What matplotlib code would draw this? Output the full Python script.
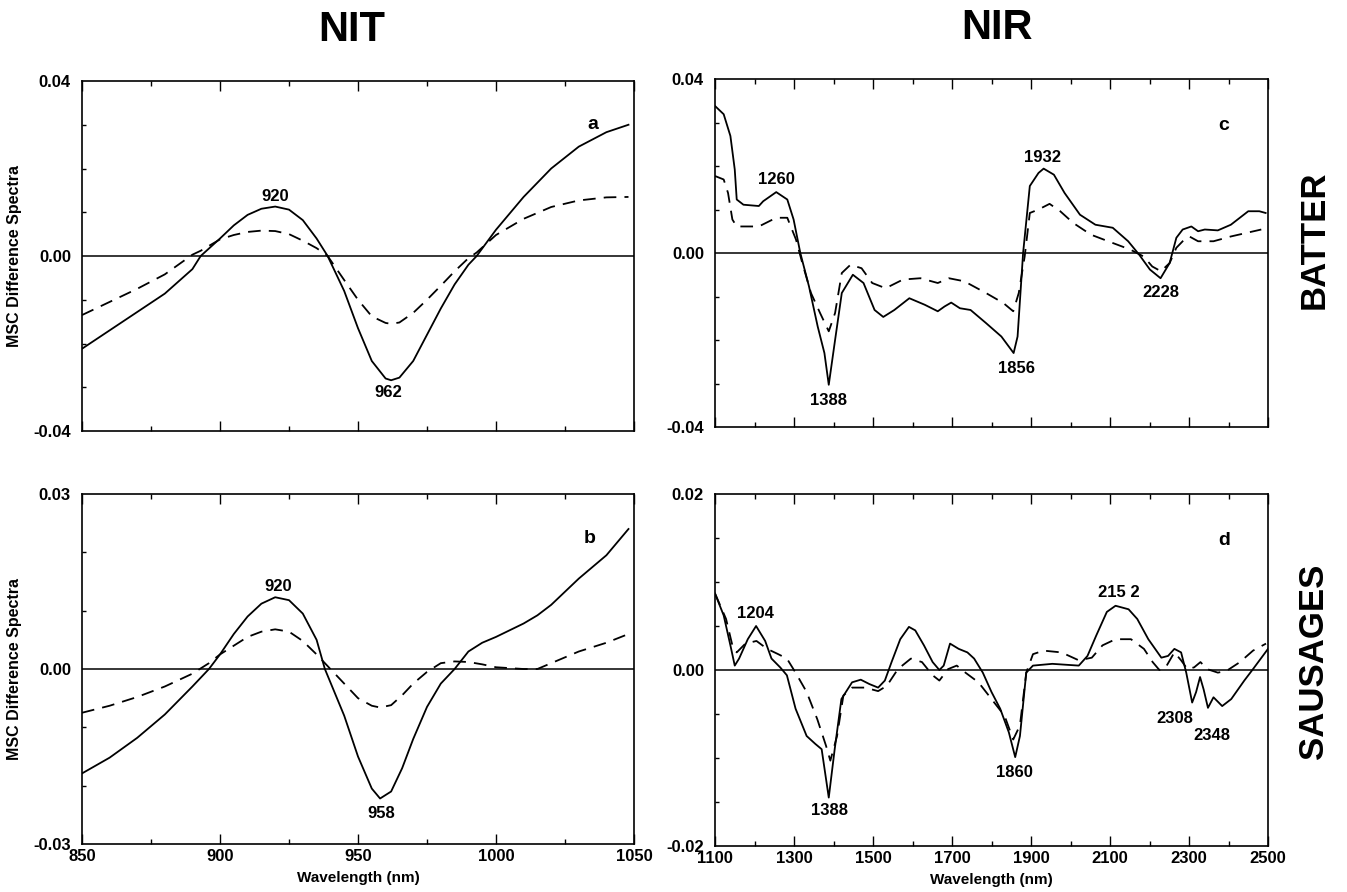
import matplotlib
matplotlib.use("Agg")
import matplotlib.pyplot as plt
from matplotlib.ticker import MultipleLocator

plt.rcParams["font.family"] = ["Liberation Sans", "DejaVu Sans"]
plt.rcParams["font.weight"] = "bold"

# NIT, batter (panel a)
nit_batter_wl = [850, 860, 870, 880, 890, 893, 900, 905, 910, 915, 920, 925, 930, 935, 939,
                 945, 950, 955, 960, 962, 965, 970, 975, 980, 985, 990, 993, 1000, 1010,
                 1020, 1030, 1040, 1048]
nit_batter_solid = [-0.0212, -0.0170, -0.0128, -0.0086, -0.0030, 0.0000, 0.0040, 0.0070,
                    0.0094, 0.0108, 0.0113, 0.0106, 0.0082, 0.0040, 0.0000, -0.0080,
                    -0.0165, -0.0240, -0.0280, -0.0284, -0.0278, -0.0240, -0.0180,
                    -0.0120, -0.0065, -0.0020, 0.0000, 0.0060, 0.0135, 0.0200, 0.0250,
                    0.0283, 0.0300]
nit_batter_dash = [-0.0135, -0.0105, -0.0075, -0.0042, 0.0003, 0.0012, 0.0038, 0.0048,
                   0.0055, 0.0058, 0.0057, 0.0050, 0.0035, 0.0018, 0.0000, -0.0055,
                   -0.0100, -0.0138, -0.0153, -0.0155, -0.0152, -0.0130, -0.0100,
                   -0.0068, -0.0035, -0.0005, 0.0008, 0.0048, 0.0085, 0.0112, 0.0127,
                   0.0134, 0.0135]

# NIT, sausages (panel b)
nit_saus_wl = [850, 860, 870, 880, 890, 896, 900, 905, 910, 915, 920, 925, 930, 935, 938,
               945, 950, 955, 958, 962, 966, 970, 975, 980, 985, 990, 995, 1000, 1010,
               1015, 1020, 1030, 1040, 1048]
nit_saus_solid = [-0.0179, -0.0152, -0.0118, -0.0078, -0.0030, 0.0000, 0.0025, 0.0060,
                  0.0090, 0.0112, 0.0123, 0.0118, 0.0095, 0.0050, 0.0000, -0.0080,
                  -0.0150, -0.0205, -0.0222, -0.0210, -0.0170, -0.0120, -0.0065,
                  -0.0025, 0.0000, 0.0030, 0.0045, 0.0055, 0.0078, 0.0092, 0.0110,
                  0.0155, 0.0195, 0.0240]
nit_saus_dash = [-0.0075, -0.0063, -0.0048, -0.0030, -0.0008, 0.0010, 0.0025, 0.0040,
                 0.0055, 0.0064, 0.0068, 0.0064, 0.0048, 0.0025, 0.0010, -0.0025,
                 -0.0050, -0.0063, -0.0066, -0.0062, -0.0045, -0.0025, -0.0005,
                 0.0010, 0.0013, 0.0012, 0.0008, 0.0003, 0.0000, 0.0000, 0.0010,
                 0.0030, 0.0045, 0.0060]

# NIR, batter (panel c)
nir_batter_wl_s = [1100, 1122, 1139, 1150, 1155, 1172, 1211, 1222, 1255, 1283, 1299, 1316,
                   1338, 1360, 1377, 1388, 1404, 1421, 1449, 1476, 1504, 1526, 1554, 1592,
                   1631, 1664, 1681, 1698, 1720, 1747, 1786, 1825, 1856, 1866, 1880, 1897,
                   1919, 1932, 1958, 1985, 2024, 2063, 2107, 2146, 2174, 2201, 2228, 2251,
                   2268, 2284, 2306, 2323, 2340, 2373, 2406, 2450, 2478, 2494]
nir_batter_solid = [0.0338, 0.0319, 0.0269, 0.0192, 0.0123, 0.0111, 0.0108, 0.0119, 0.0140,
                    0.0123, 0.0077, 0.0000, -0.0077, -0.0169, -0.0230, -0.0303, -0.0200,
                    -0.0092, -0.0050, -0.0069, -0.0131, -0.0147, -0.0131, -0.0104, -0.0119,
                    -0.0134, -0.0123, -0.0114, -0.0127, -0.0131, -0.0161, -0.0192, -0.0230,
                    -0.0192, 0.0000, 0.0154, 0.0184, 0.0194, 0.0180, 0.0138, 0.0088, 0.0065,
                    0.0058, 0.0027, -0.0004, -0.0038, -0.0058, -0.0023, 0.0035, 0.0054,
                    0.0061, 0.0050, 0.0054, 0.0052, 0.0065, 0.0096, 0.0096, 0.0092]
nir_batter_wl_d = [1100, 1122, 1133, 1144, 1155, 1211, 1255, 1283, 1305, 1321, 1343, 1366,
                   1388, 1404, 1421, 1443, 1471, 1498, 1532, 1576, 1620, 1664, 1692, 1731,
                   1786, 1830, 1855, 1869, 1884, 1897, 1919, 1947, 1974, 2007, 2052, 2107,
                   2151, 2185, 2207, 2229, 2251, 2268, 2284, 2301, 2323, 2362, 2406, 2483]
nir_batter_dash = [0.0177, 0.0169, 0.0138, 0.0077, 0.0061, 0.0061, 0.0081, 0.0081, 0.0031,
                   -0.0023, -0.0092, -0.0138, -0.0180, -0.0138, -0.0046, -0.0027, -0.0035,
                   -0.0069, -0.0081, -0.0061, -0.0058, -0.0069, -0.0058, -0.0065, -0.0092,
                   -0.0115, -0.0134, -0.0092, -0.0008, 0.0092, 0.0100, 0.0113, 0.0096,
                   0.0069, 0.0042, 0.0023, 0.0008, -0.0008, -0.0031, -0.0042, -0.0023,
                   0.0012, 0.0027, 0.0038, 0.0027, 0.0027, 0.0038, 0.0054]

# NIR, sausages (panel d)
nir_saus_wl_s = [1100, 1122, 1139, 1150, 1161, 1183, 1204, 1227, 1243, 1265, 1282, 1304,
                 1332, 1354, 1370, 1388, 1403, 1420, 1447, 1469, 1491, 1513, 1530, 1547,
                 1569, 1591, 1607, 1629, 1651, 1668, 1679, 1695, 1717, 1739, 1756, 1778,
                 1800, 1822, 1844, 1860, 1872, 1888, 1905, 1954, 2021, 2043, 2065, 2092,
                 2114, 2147, 2169, 2197, 2230, 2247, 2263, 2280, 2293, 2308, 2318, 2328,
                 2337, 2348, 2362, 2384, 2407, 2440, 2462, 2500]
nir_saus_solid = [0.0087, 0.0062, 0.0028, 0.0005, 0.0013, 0.0035, 0.0050, 0.0033, 0.0013,
                  0.0003, -0.0006, -0.0044, -0.0075, -0.0084, -0.0090, -0.0145, -0.0090,
                  -0.0033, -0.0014, -0.0011, -0.0016, -0.0020, -0.0012, 0.0009, 0.0035,
                  0.0049, 0.0045, 0.0028, 0.0009, 0.0000, 0.0005, 0.0030, 0.0024, 0.0020,
                  0.0013, -0.0003, -0.0025, -0.0044, -0.0071, -0.0099, -0.0075, -0.0003,
                  0.0005, 0.0007, 0.0005, 0.0016, 0.0039, 0.0066, 0.0073, 0.0069, 0.0058,
                  0.0035, 0.0014, 0.0016, 0.0024, 0.0020, -0.0003, -0.0037, -0.0025,
                  -0.0008, -0.0022, -0.0043, -0.0031, -0.0041, -0.0033, -0.0012, 0.0001,
                  0.0024]
nir_saus_wl_d = [1100, 1128, 1144, 1155, 1177, 1205, 1232, 1260, 1282, 1304, 1332, 1359,
                 1381, 1392, 1409, 1425, 1447, 1480, 1513, 1535, 1563, 1596, 1624, 1651,
                 1668, 1690, 1712, 1734, 1767, 1800, 1833, 1855, 1872, 1888, 1905, 1932,
                 1977, 2021, 2054, 2081, 2114, 2153, 2186, 2208, 2225, 2241, 2263, 2280,
                 2296, 2313, 2329, 2346, 2373, 2395, 2429, 2462, 2495]
nir_saus_dash = [0.0087, 0.0058, 0.0028, 0.0020, 0.0030, 0.0033, 0.0024, 0.0018, 0.0013,
                 -0.0003, -0.0025, -0.0056, -0.0086, -0.0103, -0.0075, -0.0029, -0.0020,
                 -0.0020, -0.0024, -0.0018, 0.0001, 0.0013, 0.0009, -0.0006, -0.0012,
                 0.0001, 0.0005, -0.0003, -0.0014, -0.0033, -0.0052, -0.0079, -0.0063,
                 -0.0003, 0.0018, 0.0022, 0.0020, 0.0011, 0.0014, 0.0028, 0.0035, 0.0035,
                 0.0024, 0.0009, 0.0000, 0.0003, 0.0020, 0.0011, 0.0001, 0.0003, 0.0009,
                 0.0001, -0.0003, -0.0001, 0.0009, 0.0022, 0.0030]

# tick labels
nit_ticks = [850, 900, 950, 1000, 1050]
nir_ticks = [1100, 1300, 1500, 1700, 1900, 2100, 2300, 2500]

# band labels: (text, wavelength, y position)
peaks_a = [("920", 920, 0.0136), ("962", 961, -0.0313)]
peaks_b = [("920", 921, 0.0142), ("958", 958.5, -0.0247)]
peaks_c = [("1260", 1255, 0.0169), ("1388", 1388, -0.0338), ("1856", 1864, -0.0265),
           ("1932", 1930, 0.0219), ("2228", 2229, -0.0090)]
peaks_d = [("1204", 1203, 0.0064), ("1388", 1390, -0.0160), ("1860", 1857, -0.0117),
           ("215 2", 2122, 0.0088), ("2308", 2263, -0.0055), ("2348", 2357, -0.0074)]

fig = plt.figure(figsize=(13.47, 8.92), dpi=100)

W, H = 1347.0, 892.0


def make_axes(x0, x1, top, bottom):
    return fig.add_axes([x0 / W, 1 - bottom / H, (x1 - x0) / W, (bottom - top) / H])


ax_a = make_axes(82, 634, 81, 431)
ax_b = make_axes(82, 634, 494, 844)
ax_c = make_axes(715, 1268, 79, 427)
ax_d = make_axes(715, 1268, 494, 846)


def style(ax, xlim, xticks, xmin, ylim, yminor, show_x):
    ax.set_xlim(*xlim)
    ax.set_ylim(-ylim, ylim)
    ax.axhline(0, color="black", lw=1.1)
    ax.set_xticks(xticks)
    ax.xaxis.set_minor_locator(MultipleLocator(xmin))
    ax.set_yticks([-ylim, 0, ylim])
    ax.yaxis.set_minor_locator(MultipleLocator(yminor))
    ax.tick_params(which="both", direction="in", top=True, right=False, width=1)
    ax.tick_params(which="major", axis="x", length=7)
    ax.tick_params(which="minor", axis="x", length=3.5)
    ax.tick_params(which="major", axis="y", length=0, pad=8)
    ax.tick_params(which="minor", axis="y", length=3)
    ax.tick_params(labelsize=12)
    for sp in ax.spines.values():
        sp.set_linewidth(1.2)
    if not show_x:
        ax.set_xticklabels([])


def draw(ax, wl_s, solid, wl_d, dash, peaks, letter, letter_pos):
    ax.plot(wl_s, solid, color="black", lw=1.3, solid_joinstyle="round")
    ax.plot(wl_d, dash, color="black", lw=1.3, ls=(0, (7, 4.5)))
    for txt, x, y in peaks:
        ax.text(x, y, txt, ha="center", va="center", fontsize=12, fontweight="bold")
    ax.text(letter_pos[0], letter_pos[1], letter, ha="center", va="center",
            fontsize=14, fontweight="bold")


style(ax_a, (850, 1050), nit_ticks, 25, 0.04, 0.01, False)
style(ax_b, (850, 1050), nit_ticks, 25, 0.03, 0.01, True)
style(ax_c, (1100, 2500), nir_ticks, 100, 0.04, 0.01, False)
style(ax_d, (1100, 2500), nir_ticks, 100, 0.02, 0.005, True)

ax_a.set_yticklabels(["-0.04", "0.00", "0.04"])
ax_b.set_yticklabels(["-0.03", "0.00", "0.03"])
ax_c.set_yticklabels(["-0.04", "0.00", "0.04"])
ax_d.set_yticklabels(["-0.02", "0.00", "0.02"])

draw(ax_a, nit_batter_wl, nit_batter_solid, nit_batter_wl, nit_batter_dash,
     peaks_a, "a", (1035, 0.030))
draw(ax_b, nit_saus_wl, nit_saus_solid, nit_saus_wl, nit_saus_dash,
     peaks_b, "b", (1034, 0.0224))
draw(ax_c, nir_batter_wl_s, nir_batter_solid, nir_batter_wl_d, nir_batter_dash,
     peaks_c, "c", (2389, 0.0292))
draw(ax_d, nir_saus_wl_s, nir_saus_solid, nir_saus_wl_d, nir_saus_dash,
     peaks_d, "d", (2390, 0.0147))

for ax in (ax_a, ax_b):
    ax.set_ylabel("MSC Difference Spectra", fontsize=11.5, fontweight="bold", labelpad=8)
for ax in (ax_b, ax_d):
    ax.set_xlabel("Wavelength (nm)", fontsize=11, fontweight="bold", labelpad=5)

fig.text(352 / W, 1 - 30 / H, "NIT", ha="center", va="center", fontsize=30, fontweight="bold")
fig.text(997 / W, 1 - 28 / H, "NIR", ha="center", va="center", fontsize=30, fontweight="bold")
fig.text(1314 / W, 1 - 240 / H, "BATTER", ha="center", va="center", rotation=90,
         fontsize=25, fontweight="bold")
fig.text(1314 / W, 1 - 661 / H, "SAUSAGES", ha="center", va="center", rotation=90,
         fontsize=25, fontweight="bold")

fig.savefig("out.png", dpi=100, facecolor="white")
